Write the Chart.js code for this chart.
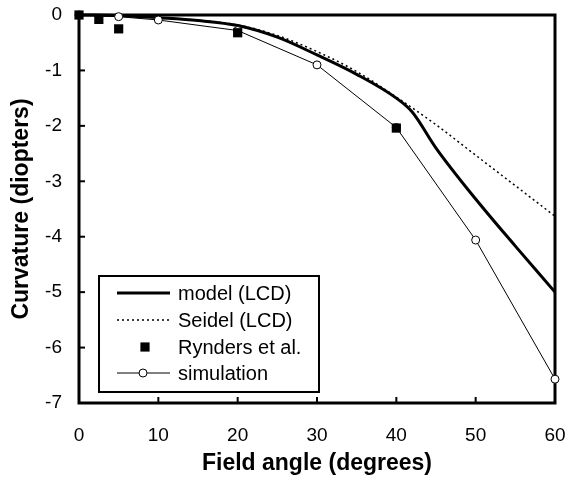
<!DOCTYPE html>
<html>
<head>
<meta charset="utf-8">
<script src="https://cdn.jsdelivr.net/npm/chart.js@4.4.1/dist/chart.umd.min.js"></script>
<style>
  html, body { margin: 0; padding: 0; background: #fff; }
  #wrap { width: 566px; height: 481px; }
</style>
</head>
<body>
<div id="wrap"><canvas id="curvChart" width="566" height="481"></canvas></div>
<script>
// field angle (deg) and curvature (D)
const modelAngle = [0, 5, 10, 15, 20, 25, 30, 35, 40, 42, 45, 50, 55, 60];
const modelCurv = [0, -0.01, -0.05, -0.1, -0.19, -0.4, -0.72, -1.07, -1.5, -1.75, -2.4, -3.32, -4.17, -5.0];

const seidelAngle = [0, 10, 20, 25, 30, 35, 40, 45, 50, 55, 60];
const seidelCurv = [0, -0.05, -0.18, -0.37, -0.66, -1.02, -1.48, -1.98, -2.53, -3.08, -3.63];

const ryndersAngle = [0, 2.5, 5, 20, 40];
const ryndersCurv = [0, -0.08, -0.25, -0.32, -2.04];

const simAngle = [0, 5, 10, 20, 30, 40, 50, 60];
const simCurv = [0, -0.03, -0.09, -0.28, -0.9, -2.03, -4.06, -6.57];

const xTicks = [0, 10, 20, 30, 40, 50, 60];
const yTicks = [0, -1, -2, -3, -4, -5, -6, -7];

function pts(xs, ys) {
    return xs.map((x, i) => ({ x: x, y: ys[i] }));
}

// pas de marge auto pour les étiquettes, on fixe la zone à la main
function sansMarge(s) {
    s.paddingLeft = 0; s.paddingRight = 0; s.paddingTop = 0; s.paddingBottom = 0;
}

// cadre noir + petites graduations vers l'intérieur
const cadre = {
    id: 'cadre',
    beforeDatasetsDraw(chart) {
        const ctx = chart.ctx;
        const a = chart.chartArea;
        const sx = chart.scales.x, sy = chart.scales.y;
        ctx.save();
        ctx.strokeStyle = '#000';
        ctx.lineWidth = 2;
        yTicks.forEach(v => {
            const py = sy.getPixelForValue(v);
            ctx.beginPath(); ctx.moveTo(a.left, py); ctx.lineTo(a.left + 6, py); ctx.stroke();
        });
        xTicks.forEach(v => {
            const px = sx.getPixelForValue(v);
            ctx.beginPath(); ctx.moveTo(px, a.bottom); ctx.lineTo(px, a.bottom - 6); ctx.stroke();
        });
        ctx.lineWidth = 3;
        ctx.strokeRect(a.left, a.top, a.right - a.left, a.bottom - a.top);
        ctx.restore();
    }
};

// légende encadrée dans le graphe
const legendeBoite = {
    id: 'legendeBoite',
    afterDraw(chart) {
        const ctx = chart.ctx;
        const bx = 99, by = 276, bw = 220, bh = 116;
        ctx.save();
        ctx.fillStyle = '#fff';
        ctx.fillRect(bx, by, bw, bh);
        ctx.strokeStyle = '#000';
        ctx.lineWidth = 2;
        ctx.strokeRect(bx, by, bw, bh);

        const rows = [293, 320, 347, 373];
        const x1 = 117, x2 = 170;
        chart.data.datasets.forEach((ds, i) => {
            const y = rows[i];
            const mx = i === 2 ? 145 : 143;
            ctx.strokeStyle = '#000';
            if (ds.showLine !== false) {
                ctx.lineWidth = ds.borderWidth;
                ctx.setLineDash(ds.borderDash || []);
                ctx.beginPath(); ctx.moveTo(x1, y); ctx.lineTo(x2, y); ctx.stroke();
                ctx.setLineDash([]);
            }
            if (ds.pointRadius > 0) {
                ctx.fillStyle = ds.pointBackgroundColor;
                ctx.strokeStyle = ds.pointBorderColor;
                ctx.lineWidth = ds.pointBorderWidth;
                ctx.beginPath();
                if (ds.pointStyle === 'rect') {
                    const s = ds.pointRadius * Math.SQRT1_2;
                    ctx.rect(mx - s, y - s, 2 * s, 2 * s);
                    ctx.fill();
                } else {
                    ctx.arc(mx, y, ds.pointRadius, 0, Math.PI * 2);
                    ctx.fill(); ctx.stroke();
                }
            }
            ctx.fillStyle = '#000';
            ctx.font = '20px "Liberation Sans", Arial, sans-serif';
            ctx.textBaseline = 'middle';
            ctx.textAlign = 'left';
            ctx.fillText(ds.label, 178, y + 1);
        });
        ctx.restore();
    }
};

new Chart(document.getElementById('curvChart').getContext('2d'), {
    type: 'scatter',
    data: {
        datasets: [{
            label: 'model (LCD)',
            data: pts(modelAngle, modelCurv),
            showLine: true,
            borderColor: '#000',
            borderWidth: 3,
            pointRadius: 0,
            cubicInterpolationMode: 'monotone',
            clip: false,
            order: 3
        }, {
            label: 'Seidel (LCD)',
            data: pts(seidelAngle, seidelCurv),
            showLine: true,
            borderColor: '#000',
            borderWidth: 1.5,
            borderDash: [2, 3],
            pointRadius: 0,
            cubicInterpolationMode: 'monotone',
            clip: false,
            order: 4
        }, {
            label: 'Rynders et al.',
            data: pts(ryndersAngle, ryndersCurv),
            showLine: false,
            pointStyle: 'rect',
            pointRadius: 6.5,
            pointBackgroundColor: '#000',
            pointBorderColor: '#000',
            pointBorderWidth: 0,
            clip: false,
            order: 1
        }, {
            label: 'simulation',
            data: pts(simAngle, simCurv),
            showLine: true,
            borderColor: '#000',
            borderWidth: 1,
            pointStyle: 'circle',
            pointRadius: 4,
            pointBackgroundColor: '#fff',
            pointBorderColor: '#000',
            pointBorderWidth: 1,
            clip: false,
            order: 2
        }]
    },
    options: {
        responsive: false,
        animation: false,
        layout: { padding: { top: 15, right: 11, left: 0, bottom: 0 } },
        plugins: { legend: { display: false }, tooltip: { enabled: false } },
        scales: {
            x: {
                type: 'linear',
                min: 0, max: 60,
                afterFit: s => { s.height = 78; sansMarge(s); },
                afterBuildTicks: s => { s.ticks = xTicks.map(v => ({ value: v })); },
                grid: { display: false, drawTicks: false },
                border: { display: false },
                ticks: { color: '#000', padding: 21, font: { family: '"Liberation Sans", Arial, sans-serif', size: 19 } },
                title: {
                    display: true,
                    text: 'Field angle (degrees)',
                    color: '#000',
                    padding: { top: 0, bottom: 4 },
                    font: { family: '"Liberation Sans", Arial, sans-serif', size: 23, weight: 'bold' }
                }
            },
            y: {
                type: 'linear',
                min: -7, max: 0,
                afterFit: s => { s.width = 79; sansMarge(s); },
                afterBuildTicks: s => { s.ticks = yTicks.map(v => ({ value: v })); },
                grid: { display: false, drawTicks: false },
                border: { display: false },
                ticks: { color: '#000', padding: 17, font: { family: '"Liberation Sans", Arial, sans-serif', size: 19 } },
                title: {
                    display: true,
                    text: 'Curvature (diopters)',
                    color: '#000',
                    padding: { top: 8, bottom: 0 },
                    font: { family: '"Liberation Sans", Arial, sans-serif', size: 23, weight: 'bold' }
                }
            }
        }
    },
    plugins: [cadre, legendeBoite]
});
</script>
</body>
</html>
